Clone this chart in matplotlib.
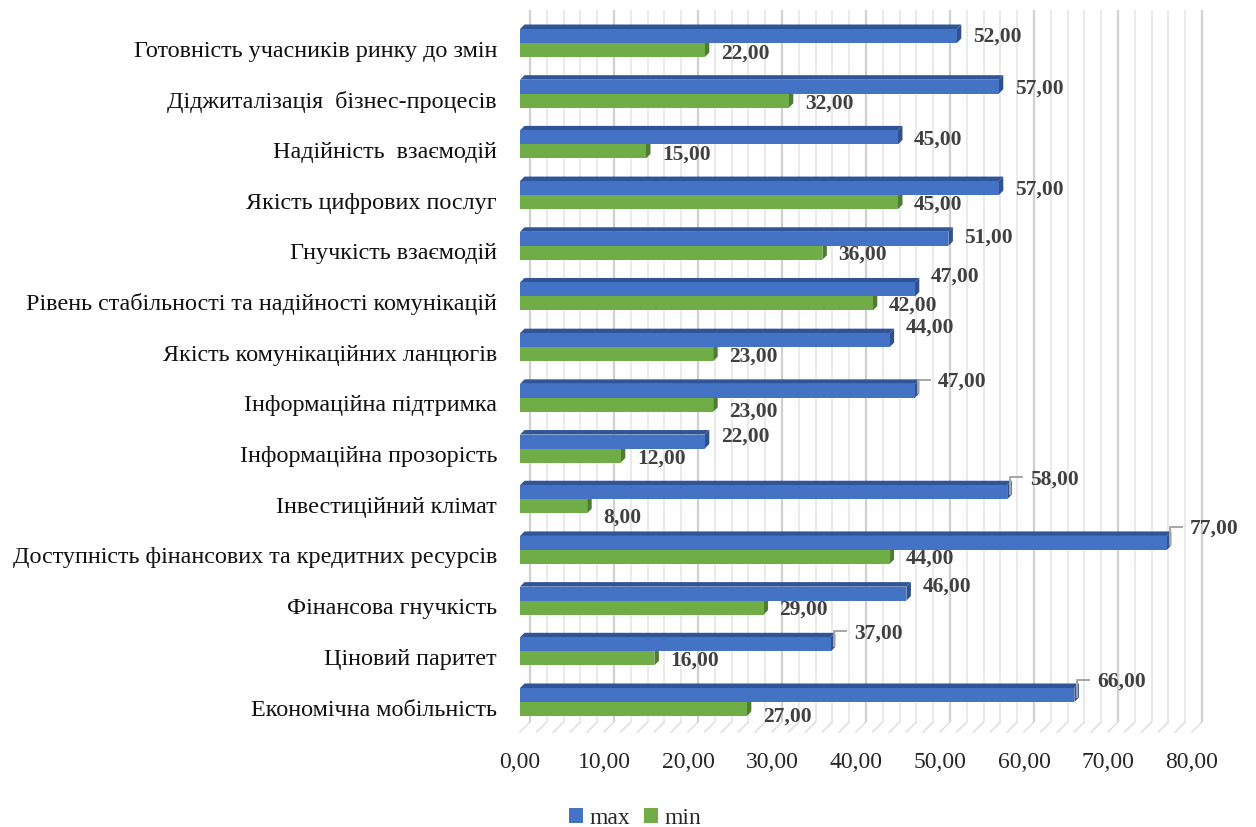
import matplotlib
matplotlib.use("Agg")
import matplotlib.pyplot as plt
from matplotlib.patches import Polygon, Rectangle

categories = [
    "Готовність учасників ринку до змін",
    "Діджиталізація  бізнес-процесів",
    "Надійність  взаємодій",
    "Якість цифрових послуг",
    "Гнучкість взаємодій",
    "Рівень стабільності та надійності комунікацій",
    "Якість комунікаційних ланцюгів",
    "Інформаційна підтримка",
    "Інформаційна прозорість",
    "Інвестиційний клімат",
    "Доступність фінансових та кредитних ресурсів",
    "Фінансова гнучкість",
    "Ціновий паритет",
    "Економічна мобільність",
]
max_vals = [52, 57, 45, 57, 51, 47, 44, 47, 22, 58, 77, 46, 37, 66]
min_vals = [22, 32, 15, 45, 36, 42, 23, 23, 12, 8, 44, 29, 16, 27]
series_names = ["max", "min"]
x_ticks = [0, 10, 20, 30, 40, 50, 60, 70, 80]

# label placement styling (pixels)
max_dy = [-1, 0, 0, 0, -3, -15, -15, -11, -7, -15, -16, -9, -13, -15]
max_leader = [False] * 7 + [True, False, True, True, False, True, True]
min_dy = [2, 1, 1, 1, 0, 0, 0, 5, 1, 9, 0, 0, 0, 6]

BLUE, BLUE_TOP, BLUE_SIDE = "#4472C4", "#2F5597", "#2F528F"
GREEN, GREEN_SIDE = "#70AD47", "#4E7D31"
TXT = "#404040"
FONT = "Liberation Serif"

fig = plt.figure(figsize=(12.56, 8.27), dpi=100)
W, H = 1256, 827
left_px, right_px = 520, 1192
y0_px, y13_px = 43, 702
step = (y13_px - y0_px) / 13
top_px = y0_px - step / 2
bot_px = y13_px + step / 2
ax = fig.add_axes([left_px / W, 1 - bot_px / H, (right_px - left_px) / W, (bot_px - top_px) / H])
ax.set_xlim(0, 80)
ax.set_ylim(13.5, -0.5)
ax.axis("off")

px_x = 80 / (right_px - left_px)   # data units per pixel (x)
px_y = 1 / step                    # data units per pixel (y)

# back wall gridlines + floor diagonals
wall_dx = 10
wall_top = (10 - y0_px) * px_y
wall_bot = (722 - y0_px) * px_y
floor_front = (732 - y0_px) * px_y
for v in range(0, 81, 2):
    major = v % 10 == 0
    col = "#d0d0d0" if major else "#e8e8e8"
    lw = 1.6 if major else 1.3
    ax.plot([v + wall_dx * px_x] * 2, [wall_top, wall_bot], color=col, lw=lw,
            zorder=0, clip_on=False, solid_capstyle="butt")
    ax.plot([v + wall_dx * px_x, v], [wall_bot, floor_front], color="#e0e0e0", lw=1.2,
            zorder=0, clip_on=False)

bar_h = 14 * px_y
ddx = 4.5 * px_x
ddy = 4.5 * px_y


def bar3d(y_top, val, face, side, top=None):
    y_bot = y_top + bar_h
    if top is not None:
        ax.add_patch(Polygon([(0, y_top), (val, y_top), (val + ddx, y_top - ddy), (ddx, y_top - ddy)],
                             closed=True, facecolor=top, edgecolor="none", zorder=3))
    ax.add_patch(Polygon([(val, y_top), (val, y_bot), (val + ddx, y_bot - ddy), (val + ddx, y_top - ddy)],
                         closed=True, facecolor=side, edgecolor="none", zorder=3))
    ax.add_patch(Rectangle((0, y_top), val, bar_h, facecolor=face, edgecolor="none", zorder=4))


LBL = dict(textcoords="offset pixels", ha="left", va="center", fontsize=15.5,
           fontweight="bold", color=TXT, family=FONT, zorder=6, annotation_clip=False)

for i in range(len(categories)):
    # green first so the blue bar covers its upper side face
    bar3d(i, min_vals[i], GREEN, GREEN_SIDE)
    bar3d(i - bar_h, max_vals[i], BLUE, BLUE_SIDE, BLUE_TOP)

    # labels
    yb = i - bar_h / 2
    if max_leader[i]:
        xs = max_vals[i] + 3 * px_x
        yl = yb + max_dy[i] * px_y
        ax.plot([xs, xs, xs + 12 * px_x], [yb + 2 * px_y, yl, yl], color="#a6a6a6", lw=1.4,
                zorder=5, clip_on=False)
        ax.annotate(f"{max_vals[i]},00", (max_vals[i], yb), xytext=(23, -max_dy[i] - 2), **LBL)
    else:
        ax.annotate(f"{max_vals[i]},00", (max_vals[i], yb), xytext=(16, -max_dy[i] - 2), **LBL)
    yg = i + bar_h / 2
    ax.annotate(f"{min_vals[i]},00", (min_vals[i], yg), xytext=(16, -min_dy[i] - 2), **LBL)

    # category label
    ax.annotate(categories[i], (0, i), xycoords=("axes fraction", "data"), xytext=(-23, -8),
                textcoords="offset pixels", ha="right", va="center", fontsize=17.4,
                color="#111111", family=FONT, annotation_clip=False)

for v in x_ticks:
    ax.annotate(f"{v},00", (v, 0), xycoords=("data", "axes fraction"), xytext=(0, -35),
                textcoords="offset pixels", ha="center", va="center", fontsize=17,
                color="#262626", family=FONT, annotation_clip=False)

handles = [Rectangle((0, 0), 1, 1, facecolor=BLUE), Rectangle((0, 0), 1, 1, facecolor=GREEN)]
fig.legend(handles, series_names, loc="center", bbox_to_anchor=(635 / W, 1 - 818 / H), ncol=2,
           frameon=False, handlelength=0.6, handleheight=0.6, handletextpad=0.25,
           columnspacing=0.6, prop={"family": FONT, "size": 17}, labelcolor="#262626")

fig.savefig("out.png", dpi=100, facecolor="white")
